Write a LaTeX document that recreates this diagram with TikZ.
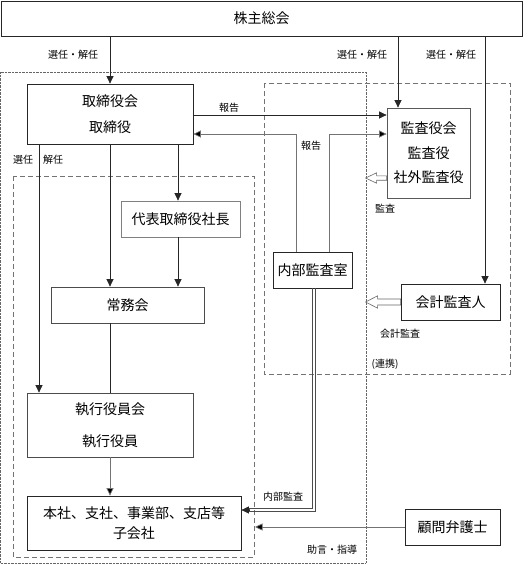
\documentclass[tikz,border=0pt]{standalone}
\usepackage{fontspec}
\setmainfont{Noto Sans CJK JP}
\usetikzlibrary{arrows.meta}
\begin{document}
\begin{tikzpicture}[x=1pt,y=-1pt,
  box/.style={draw=black!85, line width=0.8pt, fill=white, inner sep=0pt, align=center, font=\fontsize{14}{17}\selectfont},
  gbox/.style={box, draw=black!50},
  lbl/.style={inner sep=0pt, font=\fontsize{10}{12}\selectfont},
  ln/.style={draw=black!85, line width=0.7pt},
  gln/.style={draw=black!55, line width=0.7pt},
  arr/.style={ln, -{Triangle[length=7.5pt,width=7pt]}},
  garr/.style={gln, -{Triangle[length=7.5pt,width=7pt,fill=black]}},
  dblline/.style={draw=black!70, line width=0.7pt},
  hollow/.style={draw=black!60, line width=0.6pt, fill=white},
  dotframe/.style={draw=black!60, line width=0.6pt, dash pattern=on 0.7pt off 0.7pt},
  dashframe/.style={draw=black!55, line width=0.7pt, dash pattern=on 5pt off 3pt}
]
\useasboundingbox (0,0) rectangle (529,565);

% frames
\draw[dotframe] (0.5,72) rectangle (366,563);
\draw[dashframe] (13,176) rectangle (254,557);
\draw[dashframe] (264,83) rectangle (510,374);

% helper coordinates
\coordinate (kx1) at (398,0);
\coordinate (kx2) at (485,0);
\coordinate (hy1) at (0,115);
\coordinate (n1) at (296,134);
\coordinate (n2) at (329,134);
\coordinate (tx1) at (39,0);
\coordinate (tx3) at (178,0);
\coordinate (iacorner) at (314,510);
\coordinate (iaend) at (249,510);
\coordinate (ke) at (255,527);
\coordinate (ha1) at (0,178);

% nodes
\node[box, minimum width=521pt, minimum height=35pt] (kabu) at (261.5,18.5) {株主総会};
\node[box, minimum width=166pt, minimum height=60pt, font=\fontsize{14}{26}\selectfont] (tori) at (110,114) {取締役会\\取締役};
\node[gbox, draw=black!65, minimum width=83pt, minimum height=90pt, font=\fontsize{14}{24.5}\selectfont] (kansa) at (428.5,153) {監査役会\\監査役\\社外監査役};
\node[box, minimum width=79pt, minimum height=36pt] (naibu) at (312.5,270) {内部監査室};
\node[box, minimum width=99pt, minimum height=36pt] (kaikei) at (450.5,302) {会計監査人};
\node[gbox, minimum width=119pt, minimum height=36pt] (daihyo) at (180.5,219) {代表取締役社長};
\node[box, draw=black!70, minimum width=153pt, minimum height=36pt] (jomu) at (127.5,305) {常務会};
\node[box, draw=black!70, minimum width=166pt, minimum height=64pt, font=\fontsize{14}{32}\selectfont] (shikko) at (110,425) {執行役員会\\執行役員};
\node[box, minimum width=214pt, minimum height=54pt, font=\fontsize{14}{19.5}\selectfont] (honsha) at (134,523) {本社、支社、事業部、支店等\\子会社};
\node[box, minimum width=95pt, minimum height=36pt] (komon) at (452.5,527) {顧問弁護士};

% connectors
\draw[arr] (kabu.south -| tori.north) -- (tori.north);
\draw[arr] (kabu.south -| kx1) -- (kansa.north -| kx1);
\draw[arr] (kabu.south -| kx2) -- (kaikei.north -| kx2);
\draw[arr] (tori.east |- hy1) -- (kansa.west |- hy1);
\draw[garr] (naibu.north -| n1) |- (tori.east |- n1);
\draw[garr] (naibu.north -| n2) |- (kansa.west |- n2);
\draw[arr] (tori.south -| tx1) -- (shikko.north -| tx1);
\draw[arr] (tori.south) -- (jomu.north -| tori.south);
\draw[arr] (tori.south -| tx3) -- (daihyo.north -| tx3);
\draw[arr] (daihyo.south -| tx3) -- (jomu.north -| tx3);
\draw[ln] (jomu.south -| tori.south) -- (shikko.north);
\draw[garr] (shikko.south) -- (honsha.north -| shikko.south);
% double line (内部監査)
\draw[dblline] ([xshift=-1.2pt]naibu.south -| iacorner) |- ([yshift=1.2pt]iaend);
\draw[dblline] ([xshift=1.2pt]naibu.south -| iacorner) |- ([yshift=-1.2pt]iaend);
\draw[dblline] ([yshift=1.2pt]iaend) -- ([yshift=-1.2pt]iaend);
\draw[arr] (iaend) -- (honsha.east |- iaend);
\draw[garr] (komon.west) -- (ke);

% hollow arrows
\draw[hollow] (kansa.west |- ha1) ++(0,-2.2) -- ++(-10,0) -- ++(0,-3) -- ++(-11,5.2) -- ++(11,5.2) -- ++(0,-3) -- ++(10,0) -- cycle;
\draw[hollow] (kaikei.west) ++(0,-3) -- ++(-23,0) -- ++(0,-3.2) -- ++(-12,6.2) -- ++(12,6.2) -- ++(0,-3.2) -- ++(23,0) -- cycle;

% labels
\node[lbl] (l1) at (73,55) {選任・解任};
\node[lbl] (l2) at (362,55) {選任・解任};
\node[lbl] (l3) at (451,55) {選任・解任};
\node[lbl] (l4) at (229,108) {報告};
\node[lbl] (l5) at (311,146) {報告};
\node[lbl] (l6) at (23,160) {選任};
\node[lbl] (l7) at (53,160) {解任};
\node[lbl] (l8) at (385,209) {監査};
\node[lbl] (l9) at (400,334) {会計監査};
\node[lbl] (l10) at (385,364) {(連携)};
\node[lbl] (l11) at (283,497) {内部監査};
\node[lbl] (l12) at (332,550) {助言・指導};
\end{tikzpicture}
\end{document}
